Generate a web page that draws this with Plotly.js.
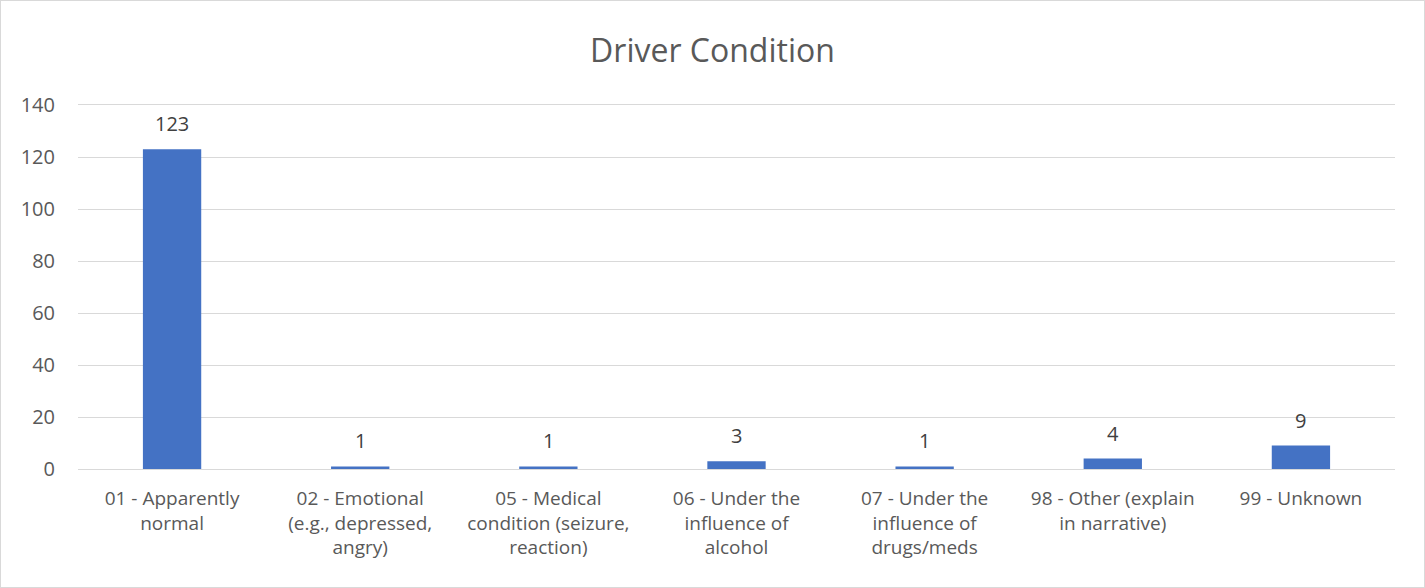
<!DOCTYPE html>
<html>
<head>
<meta charset="utf-8">
<script src="https://cdn.plot.ly/plotly-3.0.1.min.js"></script>
<style>
html,body{margin:0;padding:0;background:#fff;}
#wrap{width:1423px;height:586px;border:1px solid #d9d9d9;}
#chart{width:1423px;height:586px;}
</style>
</head>
<body>
<div id="wrap"><div id="chart"></div></div>
<script>
const categories = [
  "01 - Apparently<br>normal",
  "02 - Emotional<br>(e.g., depressed,<br>angry)",
  "05 - Medical<br>condition (seizure,<br>reaction)",
  "06 - Under the<br>influence of<br>alcohol",
  "07 - Under the<br>influence of<br>drugs/meds",
  "98 - Other (explain<br>in narrative)",
  "99 - Unknown"
];
const values = [123, 1, 1, 3, 1, 4, 9];
const yTicks = [0, 20, 40, 60, 80, 100, 120, 140];

const FONT = 'Open Sans, sans-serif';

const trace = {
  type: 'bar',
  x: categories,
  y: values,
  marker: {color: '#4472C4'},
  hoverinfo: 'x+y'
};

const labels = categories.map((c, i) => ({
  x: c,
  y: values[i],
  xref: 'x',
  yref: 'y',
  text: String(values[i]),
  showarrow: false,
  yanchor: 'bottom',
  yshift: 10,
  font: {family: FONT, size: 20, color: '#404040'}
}));

const layout = {
  width: 1423,
  height: 586,
  margin: {l: 77, r: 29, t: 104, b: 118},
  paper_bgcolor: '#ffffff',
  plot_bgcolor: '#ffffff',
  bargap: 0.69,
  showlegend: false,
  title: {
    text: 'Driver Condition',
    font: {family: FONT, size: 32, color: '#595959'},
    x: 0.5, xanchor: 'center',
    yref: 'container',
    y: 0.915, yanchor: 'middle'
  },
  xaxis: {
    type: 'category',
    tickfont: {family: FONT, size: 19, color: '#595959'},
    showgrid: false,
    showline: true,
    mirror: true,
    linecolor: '#d9d9d9',
    linewidth: 1,
    ticks: '',
    tickangle: 0,
    ticklabelstandoff: 12,
    automargin: false
  },
  yaxis: {
    range: [0, 140],
    tickvals: yTicks,
    ticktext: yTicks.map(String),
    tickfont: {family: FONT, size: 20, color: '#595959'},
    showgrid: true,
    gridcolor: '#d9d9d9',
    gridwidth: 1,
    zeroline: false,
    showline: false,
    ticks: '',
    ticklabelstandoff: 22,
    automargin: false
  },
  annotations: labels
};

Plotly.newPlot('chart', [trace], layout, {displayModeBar: false});
</script>
</body>
</html>
